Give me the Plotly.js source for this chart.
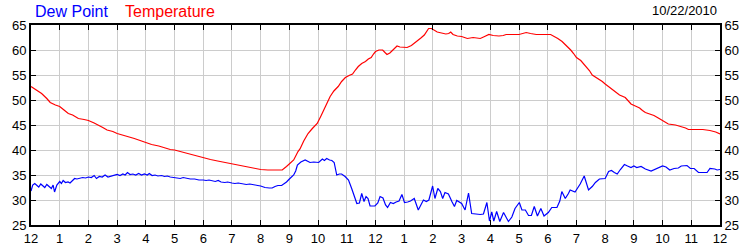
<!DOCTYPE html>
<html>
<head>
<meta charset="utf-8">
<script src="https://cdn.plot.ly/plotly-3.0.1.min.js"></script>
<style>html,body{margin:0;padding:0;background:#fff;}#chart{width:750px;height:250px;}</style>
</head>
<body>
<div id="chart"></div>
<script>
// Hours after midnight (0 = 12 AM, 24 = next 12 AM)
var dewHours = [0.00,0.06,0.13,0.20,0.27,0.34,0.42,0.48,0.55,0.63,0.71,0.77,0.82,0.90,1.00,1.06,1.12,1.20,1.29,1.36,1.45,1.52,1.60,1.70,1.80,1.90,2.00,2.10,2.20,2.28,2.38,2.48,2.58,2.68,2.80,2.90,3.00,3.10,3.20,3.28,3.36,3.45,3.55,3.65,3.75,3.85,3.95,4.05,4.12,4.22,4.32,4.42,4.55,4.65,4.75,4.85,5.00,5.10,5.20,5.30,5.42,5.55,5.70,5.85,6.00,6.10,6.20,6.30,6.42,6.52,6.62,6.75,6.85,7.00,7.10,7.22,7.35,7.50,7.62,7.75,7.90,8.00,8.15,8.30,8.40,8.50,8.60,8.73,8.90,9.00,9.08,9.15,9.22,9.28,9.40,9.55,9.72,9.85,10.02,10.08,10.15,10.22,10.30,10.40,10.48,10.56,10.65,10.74,10.82,10.94,11.06,11.17,11.26,11.35,11.44,11.52,11.60,11.67,11.74,11.81,11.98,12.08,12.16,12.26,12.35,12.42,12.52,12.62,12.72,12.82,12.92,13.01,13.12,13.22,13.35,13.49,13.67,13.77,13.86,13.99,14.07,14.17,14.26,14.34,14.42,14.54,14.66,14.75,14.83,14.92,15.00,15.12,15.24,15.35,15.50,15.65,15.76,15.88,15.97,16.05,16.12,16.22,16.33,16.46,16.63,16.75,16.86,17.01,17.10,17.22,17.33,17.43,17.53,17.64,17.76,17.87,18.02,18.14,18.32,18.42,18.49,18.61,18.72,18.78,18.95,19.13,19.27,19.34,19.42,19.55,19.66,19.80,19.88,20.00,20.12,20.22,20.32,20.42,20.53,20.67,20.78,20.90,21.00,21.10,21.25,21.40,21.60,21.80,22.00,22.12,22.25,22.40,22.55,22.65,22.85,22.97,23.10,23.25,23.55,23.65,23.82,23.90,24.00];
var dewPoint = [31.8,33.0,33.3,32.9,32.6,33.2,32.8,32.5,33.1,32.7,32.3,33.0,31.6,33.0,33.7,33.3,33.9,33.5,33.6,33.4,34.0,34.3,34.2,34.4,34.5,34.4,34.6,34.5,34.9,34.3,34.7,34.6,35.0,34.6,34.8,35.0,35.1,34.9,35.2,35.0,35.5,35.1,35.2,35.0,35.3,35.0,35.2,35.0,35.3,34.9,35.0,34.8,34.9,34.7,34.8,34.6,34.5,34.4,34.3,34.5,34.3,34.2,34.2,34.0,34.0,33.9,34.0,33.8,33.7,33.9,33.6,33.5,33.6,33.4,33.3,33.4,33.2,33.1,33.2,33.0,32.9,32.8,32.5,32.4,32.4,32.7,32.9,32.9,33.6,34.2,34.6,35.0,35.8,37.0,37.6,38.0,37.5,37.6,37.5,37.8,38.2,37.9,38.3,38.0,37.9,37.5,35.0,35.2,35.2,34.7,34.0,32.3,30.8,29.3,29.4,31.3,29.7,30.7,30.3,28.8,28.8,29.4,30.7,30.4,29.0,28.5,29.5,29.3,29.6,29.8,31.1,29.5,29.6,29.8,30.3,28.0,30.0,29.7,30.0,32.8,30.3,32.3,31.7,30.3,31.5,31.2,29.7,28.7,29.9,29.5,29.3,28.0,31.4,27.3,27.2,27.1,27.2,29.5,25.8,27.6,25.8,27.7,25.7,27.5,25.7,26.6,28.3,29.5,28.0,28.0,26.9,26.9,28.7,26.8,28.3,26.8,27.5,28.5,28.5,29.8,31.7,30.3,31.3,32.0,31.6,33.2,34.8,33.5,32.0,32.7,33.5,34.2,34.3,34.3,35.7,35.9,35.5,35.2,36.1,37.1,36.8,36.5,36.8,36.5,36.7,36.2,35.8,36.3,36.8,36.6,36.0,36.3,36.4,36.8,36.9,36.3,36.3,35.5,35.5,36.3,36.2,36.0,36.1];

var tempHours = [0.00,0.20,0.37,0.55,0.67,0.85,1.00,1.15,1.30,1.45,1.65,1.85,2.00,2.20,2.35,2.50,2.65,2.85,3.00,3.20,3.40,3.60,3.75,3.90,4.00,4.20,4.45,4.65,4.85,5.00,5.25,5.50,5.75,6.00,6.25,6.50,6.75,7.00,7.25,7.50,7.75,8.00,8.25,8.50,8.75,8.90,9.05,9.15,9.30,9.37,9.50,9.65,9.80,9.97,10.10,10.20,10.30,10.42,10.55,10.70,10.82,10.95,11.08,11.20,11.30,11.40,11.52,11.65,11.75,11.85,11.93,12.00,12.12,12.25,12.33,12.40,12.50,12.60,12.75,12.85,12.95,13.10,13.25,13.45,13.58,13.70,13.78,13.85,13.95,14.05,14.15,14.30,14.45,14.55,14.62,14.70,14.85,15.00,15.20,15.40,15.65,15.80,15.95,16.10,16.30,16.45,16.55,17.00,17.25,17.40,17.60,18.10,18.25,18.35,18.50,18.65,18.80,18.90,19.00,19.15,19.30,19.45,19.55,19.70,19.80,19.90,20.00,20.15,20.25,20.40,20.50,20.70,20.80,20.90,21.05,21.20,21.30,21.40,21.55,21.70,21.85,21.95,22.10,22.20,22.45,22.65,22.80,22.90,23.40,23.65,23.85,24.00];
var temperature = [52.7,52.0,51.3,50.3,49.5,49.0,48.7,48.0,47.3,47.0,46.3,46.1,45.9,45.4,45.0,44.5,44.0,43.7,43.3,43.0,42.7,42.3,42.0,41.7,41.4,41.1,40.8,40.4,40.1,40.0,39.6,39.2,38.9,38.5,38.1,37.8,37.5,37.2,37.0,36.7,36.4,36.1,36.0,36.0,36.0,36.7,37.5,38.0,39.7,40.2,41.8,43.3,44.3,45.3,46.8,48.0,49.3,50.7,51.8,52.7,53.7,54.5,54.9,55.2,56.0,56.7,57.3,57.7,58.2,58.5,59.2,59.7,60.0,60.0,59.5,59.1,59.4,59.9,60.8,60.6,60.5,60.5,60.9,61.7,62.4,63.0,63.8,64.3,64.3,63.9,63.6,63.4,63.2,63.3,63.6,63.1,62.8,62.7,62.3,62.5,62.3,62.7,63.1,62.9,62.8,62.9,63.1,63.1,63.5,63.3,63.1,63.1,62.7,62.3,61.7,60.9,60.0,59.3,58.5,57.9,57.0,55.9,55.0,54.5,54.1,53.7,53.2,52.5,52.0,51.4,51.0,50.5,49.9,49.2,48.8,48.4,47.9,47.5,47.2,46.9,46.4,46.1,45.6,45.2,45.0,44.7,44.4,44.1,44.1,43.9,43.6,43.2];

var xTickVals = [0,1,2,3,4,5,6,7,8,9,10,11,12,13,14,15,16,17,18,19,20,21,22,23,24];
var xTickText = ["12","1","2","3","4","5","6","7","8","9","10","11","12","1","2","3","4","5","6","7","8","9","10","11","12"];
var yTickVals = [25,30,35,40,45,50,55,60,65];
var seriesNames = ["Dew Point","Temperature"];
var dateLabel = "10/22/2010";

var FONT = "Liberation Sans, Arial, sans-serif";
var tickFont = {family: FONT, size: 13, color: "#000"};

var traces = [
  {x: dewHours, y: dewPoint, name: seriesNames[0], type: "scatter", mode: "lines",
   line: {color: "#0000ff", width: 1.2}, yaxis: "y", hoverinfo: "skip"},
  {x: tempHours, y: temperature, name: seriesNames[1], type: "scatter", mode: "lines",
   line: {color: "#ff0000", width: 1.2}, yaxis: "y2", hoverinfo: "skip"}
];

var axisCommon = {
  showline: true, linecolor: "#000", linewidth: 2,
  ticks: "inside", ticklen: 5, tickwidth: 1, tickcolor: "#000",
  tickfont: tickFont, zeroline: false, fixedrange: true
};

var layout = {
  width: 750, height: 250,
  margin: {l: 31, r: 30, t: 25, b: 25, pad: 0},
  paper_bgcolor: "#fff", plot_bgcolor: "#fff",
  showlegend: false,
  xaxis: Object.assign({}, axisCommon, {
    range: [0, 24], tickmode: "array", tickvals: xTickVals, ticktext: xTickText,
    showgrid: true, gridcolor: "#cccccc", gridwidth: 1, mirror: "ticks"
  }),
  yaxis: Object.assign({}, axisCommon, {
    range: [25, 65], tickmode: "array", tickvals: yTickVals,
    showgrid: true, gridcolor: "#cccccc", gridwidth: 1, mirror: "ticks"
  }),
  yaxis2: Object.assign({}, axisCommon, {
    range: [25, 65], tickmode: "array", tickvals: yTickVals,
    overlaying: "y", side: "right", showgrid: false, anchor: "x"
  }),
  annotations: [
    {text: seriesNames[0], xref: "paper", yref: "paper", x: 0.003, y: 1.068,
     xanchor: "left", yanchor: "middle", showarrow: false,
     font: {family: FONT, size: 16, color: "#0000ff"}},
    {text: seriesNames[1], xref: "paper", yref: "paper", x: 0.134, y: 1.068,
     xanchor: "left", yanchor: "middle", showarrow: false,
     font: {family: FONT, size: 16, color: "#ff0000"}},
    {text: dateLabel, xref: "paper", yref: "paper", x: 0.998, y: 1.07,
     xanchor: "right", yanchor: "middle", showarrow: false,
     font: {family: FONT, size: 13, color: "#000"}}
  ]
};

Plotly.newPlot("chart", traces, layout, {staticPlot: true, displayModeBar: false});
</script>
</body>
</html>
